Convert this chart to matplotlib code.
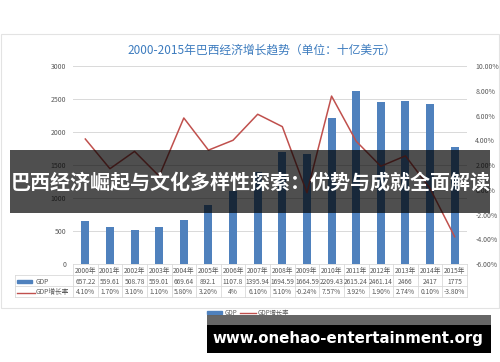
import matplotlib.pyplot as plt
import matplotlib.patches as mpatches
from matplotlib.lines import Line2D
from matplotlib.transforms import blended_transform_factory
import numpy as np

plt.rcParams['font.family'] = ['Noto Sans CJK SC', 'DejaVu Sans']

years = ['2000年', '2001年', '2002年', '2003年', '2004年', '2005年', '2006年', '2007年',
         '2008年', '2009年', '2010年', '2011年', '2012年', '2013年', '2014年', '2015年']
gdp = [657.22, 559.61, 508.78, 559.01, 669.64, 892.1, 1107.8, 1395.94,
       1694.59, 1664.59, 2209.43, 2615.24, 2461.14, 2466, 2417, 1775]
gdp_labels = ['657.22', '559.61', '508.78', '559.01', '669.64', '892.1', '1107.8', '1395.94',
              '1694.59', '1664.59', '2209.43', '2615.24', '2461.14', '2466', '2417', '1775']
growth = [4.10, 1.70, 3.10, 1.10, 5.80, 3.20, 4.00, 6.10,
          5.10, -0.24, 7.57, 3.92, 1.90, 2.74, 0.10, -3.80]
growth_labels = ['4.10%', '1.70%', '3.10%', '1.10%', '5.80%', '3.20%', '4%', '6.10%',
                 '5.10%', '-0.24%', '7.57%', '3.92%', '1.90%', '2.74%', '0.10%', '-3.80%']

W, H = 500, 362
blue = '#4f81bd'
red = '#c0504d'
grid = '#d9d9d9'
txt = '#595959'


def fx(x):
    return x / W


def fy(y):
    return 1 - y / H


fig = plt.figure(figsize=(5, 3.62), dpi=100)

# chart frame
fig.add_artist(mpatches.Rectangle((fx(1), fy(308)), fx(498), 274 / H, transform=fig.transFigure,
                                  fill=False, edgecolor='#e3e3e3', lw=0.8))

ax = fig.add_axes([fx(73), fy(264), fx(394), 198 / H])
x = np.arange(len(years))
ax.bar(x, gdp, width=0.32, color=blue, zorder=2)
ax.set_xlim(-0.5, len(years) - 0.5)
ax.set_ylim(0, 3000)
ax.set_yticks(np.arange(0, 3001, 500))
ax.set_yticklabels([str(v) for v in range(0, 3001, 500)], fontsize=5, color=txt)
ax.set_xticks([])
ax.grid(axis='y', color=grid, lw=0.7, zorder=0)
ax.tick_params(axis='y', length=0, pad=5)
for s in ax.spines.values():
    s.set_visible(False)

ax2 = ax.twinx()
ax2.plot(x, growth, color=red, lw=1.1)
ax2.set_ylim(-6, 10)
ticks2 = np.arange(-6, 11, 2)
ax2.set_yticks(ticks2)
ax2.set_yticklabels(['%.2f%%' % t for t in ticks2], fontsize=5, color=txt)
ax2.tick_params(axis='y', length=0, pad=6)
for s in ax2.spines.values():
    s.set_visible(False)

fig.text(fx(262), fy(50), '2000-2015年巴西经济增长趋势（单位：十亿美元）', ha='center', va='center',
         fontsize=8.5, color='#3d7cbf')

# data table under the axis
tr = blended_transform_factory(ax.transData, fig.transFigure)
rows_y = [264, 275, 286, 297]
for yy in rows_y:
    fig.add_artist(Line2D([-0.5, len(years) - 0.5], [fy(yy), fy(yy)], transform=tr, color=grid, lw=0.6))
for i in range(len(years) + 1):
    fig.add_artist(Line2D([i - 0.5, i - 0.5], [fy(264), fy(297)], transform=tr, color=grid, lw=0.6))
for yy in rows_y[1:]:
    fig.add_artist(Line2D([fx(15), fx(73)], [fy(yy), fy(yy)], transform=fig.transFigure, color=grid, lw=0.6))
fig.add_artist(Line2D([fx(15), fx(15)], [fy(275), fy(297)], transform=fig.transFigure, color=grid, lw=0.6))
for i in range(len(years)):
    fig.text(i, fy(270.5), years[i], transform=tr, ha='center', va='center', fontsize=4.8, color=txt)
    fig.text(i, fy(281.5), gdp_labels[i], transform=tr, ha='center', va='center', fontsize=4.8, color=txt)
    fig.text(i, fy(292), growth_labels[i], transform=tr, ha='center', va='center', fontsize=4.8, color=txt)
fig.add_artist(mpatches.Rectangle((fx(17), fy(283)), fx(15), 3 / H, transform=fig.transFigure, color=blue))
fig.text(fx(36), fy(281.5), 'GDP', ha='left', va='center', fontsize=4.8, color=txt)
fig.add_artist(Line2D([fx(17), fx(35)], [fy(292.5), fy(292.5)], transform=fig.transFigure, color=red, lw=1))
fig.text(fx(36), fy(292), 'GDP增长率', ha='left', va='center', fontsize=4.8, color=txt)

# bottom legend
fig.add_artist(mpatches.Rectangle((fx(207), fy(314)), fx(15), 3 / H, transform=fig.transFigure, color=blue))
fig.text(fx(225), fy(313), 'GDP', ha='left', va='center', fontsize=4.5, color=txt)
fig.add_artist(Line2D([fx(240), fx(256)], [fy(313), fy(313)], transform=fig.transFigure, color=red, lw=1))
fig.text(fx(258), fy(313), 'GDP增长率', ha='left', va='center', fontsize=4.5, color=txt)

# overlay banner
fig.add_artist(mpatches.Rectangle((fx(10), fy(213)), fx(480), 63 / H, transform=fig.transFigure,
                                  color='black', alpha=0.69, lw=0))
fig.text(fx(251), fy(182), '巴西经济崛起与文化多样性探索：优势与成就全面解读', ha='center', va='center',
         fontsize=14.4, fontweight='bold', color='white')

# site watermark
fig.add_artist(mpatches.Rectangle((fx(207), fy(325)), fx(284), 10 / H, transform=fig.transFigure,
                                  color='#555555', alpha=0.9, lw=0))
fig.add_artist(mpatches.Rectangle((fx(207), fy(353)), fx(284), 28 / H, transform=fig.transFigure,
                                  color='black', lw=0))
fig.text(fx(348), fy(338), 'www.onehao-entertainment.org', ha='center', va='center',
         fontsize=10.8, fontweight='bold', color='white', family='DejaVu Sans')

fig.savefig('out.png', dpi=100)
